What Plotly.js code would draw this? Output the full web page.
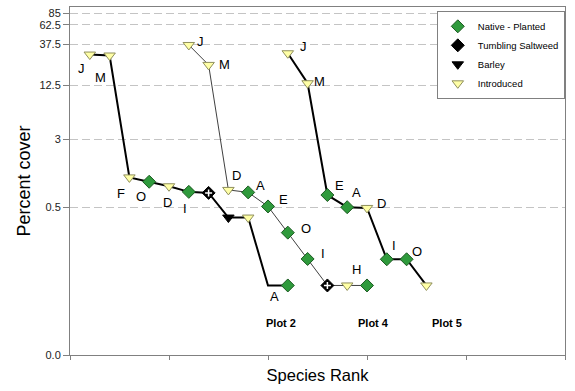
<!DOCTYPE html>
<html><head><meta charset="utf-8">
<script src="https://cdn.plot.ly/plotly-3.0.1.min.js"></script>
<style>html,body{margin:0;padding:0;background:#fff}#chart{width:575px;height:391px}</style>
</head><body><div id="chart"></div>
<script>
// ---- data (percent cover by species rank) ----
const plot2Rank  = [1, 2, 3, 4, 5, 6, 7, 8, 9, 10, 11];
const plot2Cover = [28.4, 27.7, 1.1, 0.98, 0.87, 0.75, 0.73, 0.38, 0.38, 0.063, 0.063];
const plot2Type  = ['I', 'I', 'I', 'N', 'I', 'N', 'S', 'B', 'I', '-', 'N'];
const plot2Label = ['J', 'M', 'F', 'O', 'D', 'I', '', '', '', '', 'A'];

const plot4Rank  = [6, 7, 8, 9, 10, 11, 12, 13, 14, 15];
const plot4Cover = [36.6, 21.6, 0.79, 0.74, 0.51, 0.255, 0.127, 0.063, 0.063, 0.063];
const plot4Type  = ['I', 'I', 'I', 'N', 'N', 'N', 'N', 'S', 'I', 'N'];
const plot4Label = ['J', 'M', 'D', 'A', 'E', 'O', 'I', '', 'H', ''];

const plot5Rank  = [11, 12, 13, 14, 15, 16, 17, 18];
const plot5Cover = [29.4, 13.3, 0.69, 0.5, 0.49, 0.126, 0.126, 0.063];
const plot5Type  = ['I', 'I', 'N', 'N', 'I', 'N', 'N', 'I'];
const plot5Label = ['J', 'M', 'E', 'A', 'D', 'I', 'O', ''];

const plotNames  = ['Plot 2', 'Plot 4', 'Plot 5'];
const groupCodes = ['N', 'S', 'B', 'I'];
const groupNames = ['Native - Planted', 'Tumbling Saltweed', 'Barley', 'Introduced'];
const yTickVals  = [0.01, 0.5, 3, 12.5, 37.5, 62.5, 85];
const yTickText  = ['0.0', '0.5', '3', '12.5', '37.5', '62.5', '85'];
const xTickVals  = [0, 5, 10, 15, 20, 25];

// ---- styling (positions of the letter labels, pixel offsets) ----
const off2 = [[-8,14],[-9,22],[-8,16],[-8,15],[-2,16],[-4,17],null,null,null,null,[-13,11]];
const off4 = [[12,-3],[16,0],[8,-14],[12,-7],[15,-7],[18,-4],[15,-5],null,[9,-16],null];
const off5 = [[16,-7],[12,-2],[12,-10],[9,-15],[14,-4],[7,-14],[10,-8],null];
const plotNameShift = [-7, 6, 21];

const FONT = 'Liberation Sans, Arial, sans-serif';
const series = [
  {x: plot2Rank, y: plot2Cover, t: plot2Type, l: plot2Label, off: off2, w: 2, c: '#000000'},
  {x: plot4Rank, y: plot4Cover, t: plot4Type, l: plot4Label, off: off4, w: 1, c: '#404040'},
  {x: plot5Rank, y: plot5Cover, t: plot5Type, l: plot5Label, off: off5, w: 2, c: '#000000'}
];
const markerStyle = {
  N: {symbol: 'diamond', size: 10, color: '#2f9a3c', line: {color: '#1d5a22', width: 1}},
  S: {symbol: 'diamond', size: 10, color: '#000000', line: {color: '#000000', width: 1}},
  B: {symbol: 'triangle-down', size: 10, color: '#000000', line: {color: '#000000', width: 1}},
  I: {symbol: 'triangle-down', size: 10, color: '#ffffa6', line: {color: '#8f8f5c', width: 1}}
};

const traces = [];
series.forEach(s => {
  traces.push({x: s.x, y: s.y, type: 'scatter', mode: 'lines', showlegend: false,
    hoverinfo: 'skip', line: {color: s.c, width: s.w}});
});
groupCodes.forEach((g, gi) => {
  const xs = [], ys = [];
  series.forEach(s => s.t.forEach((t, i) => { if (t === g) { xs.push(s.x[i]); ys.push(s.y[i]); } }));
  traces.push({x: xs, y: ys, type: 'scatter', mode: 'markers', name: groupNames[gi],
    marker: markerStyle[g]});
  if (g === 'S') {
    traces.push({x: xs, y: ys, type: 'scatter', mode: 'markers', showlegend: false,
      hoverinfo: 'skip', marker: {symbol: 'cross-thin', size: 5, color: '#ffffff',
      line: {color: '#ffffff', width: 1.5}}});
  }
});

const annotations = [];
series.forEach(s => s.l.forEach((lab, i) => {
  if (!lab) return;
  const o = s.off[i] || [0, 0];
  annotations.push({x: s.x[i], y: Math.log10(s.y[i]), xref: 'x', yref: 'y', text: lab,
    showarrow: false, xshift: o[0], yshift: -o[1], font: {family: FONT, size: 13, color: '#000'}});
}));
series.forEach((s, k) => {
  annotations.push({x: s.x[s.x.length - 1], y: 0.093, xref: 'x', yref: 'paper', yanchor: 'middle',
    text: '<b>' + plotNames[k] + '</b>', showarrow: false, xshift: plotNameShift[k],
    font: {family: FONT, size: 11, color: '#000'}});
});

const layout = {
  width: 575, height: 391,
  margin: {l: 70, r: 10, t: 7, b: 36},
  paper_bgcolor: '#ffffff', plot_bgcolor: '#ffffff',
  font: {family: FONT, color: '#000'},
  showlegend: true,
  legend: {x: 0.741, y: 0.989, xanchor: 'left', yanchor: 'top', bgcolor: '#ffffff',
    bordercolor: '#808080', borderwidth: 1, font: {family: FONT, size: 9.5, color: '#000'}},
  xaxis: {range: [0, 25], tickvals: xTickVals, showticklabels: false, ticks: 'outside',
    ticklen: 4, tickcolor: '#808080', showline: true, linecolor: '#808080', linewidth: 1,
    mirror: true, showgrid: false, zeroline: false,
    title: {text: 'Species Rank', font: {family: FONT, size: 16.5, color: '#000'}, standoff: 10}},
  yaxis: {type: 'log', range: [-2, 2], tickvals: yTickVals, ticktext: yTickText,
    ticks: 'outside', ticklen: 6, tickcolor: '#808080', showline: true, linecolor: '#808080',
    linewidth: 1, mirror: true, showgrid: true, gridcolor: '#c4c4c4', griddash: '8px,4px',
    gridwidth: 1, zeroline: false, tickfont: {family: FONT, size: 11, color: '#222'},
    title: {text: 'Percent cover', font: {family: FONT, size: 18, color: '#000'}, standoff: 4}},
  annotations: annotations
};

Plotly.newPlot('chart', traces, layout, {displayModeBar: false, staticPlot: true});
</script>
</body></html>
